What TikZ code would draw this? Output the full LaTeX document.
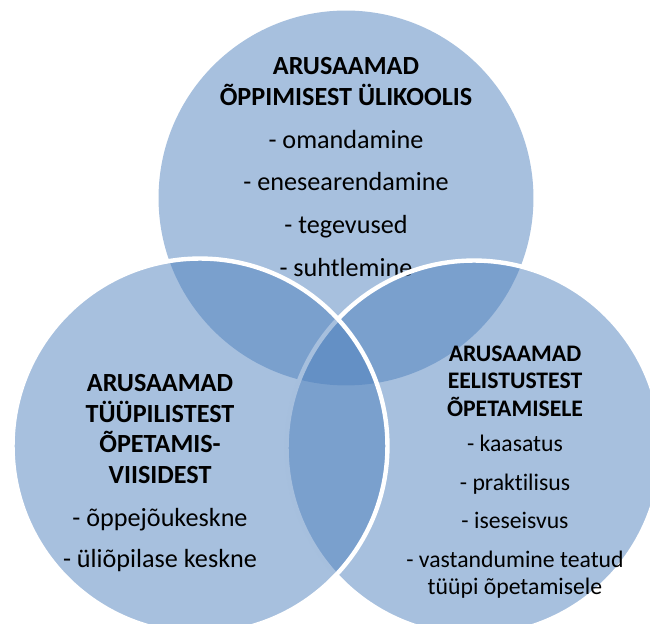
\documentclass[tikz,border=0pt]{standalone}
\usepackage{fontspec}
\setmainfont{Carlito}[Ligatures=CommonOff]
\usetikzlibrary{positioning}
\definecolor{venn}{RGB}{79,129,189}

\begin{document}
\begin{tikzpicture}[x=0.02cm,y=-0.02cm,
  circ/.style={circle,minimum size=7.5cm,inner sep=0pt,fill=venn,fill opacity=0.5},
  rim/.style={circ,draw=white,draw opacity=1,line width=2.5pt},
  txt/.style={align=center,inner sep=0pt,font=\fontsize{14.9}{17.6}\selectfont},
  txts/.style={align=center,inner sep=0pt,font=\fontsize{13.5}{15.6}\selectfont}
]
\useasboundingbox (0,0) rectangle (650,624);
\clip (0,0) rectangle (650,624);

% top: learning at university
\node[circ] (oppimine) at (346,198) {};
\node[txt] (oppimineT) at (346,167) {\textbf{ARUSAAMAD}\\
  \textbf{ÕPPIMISEST ÜLIKOOLIS}\\[6.8pt]
  - omandamine\\[6.8pt]
  - enesearendamine\\[6.8pt]
  - tegevused\\[6.8pt]
  - suhtlemine};

% right: preferences
\node[rim] (eelistus) at (474,448) {};
\node[txts] (eelistusT) at (515,472) {\textbf{ARUSAAMAD}\\
  \textbf{EELISTUSTEST}\\
  \textbf{ÕPETAMISELE}\\[4.7pt]
  - kaasatus\\[6.3pt]
  - praktilisus\\[6.3pt]
  - iseseisvus\\[6.3pt]
  - vastandumine teatud\\
  tüüpi õpetamisele};

% left: typical teaching
\node[rim] (viisid) at (200,446) {};
\node[txt] (viisidT) at (160,473) {\textbf{ARUSAAMAD}\\
  \textbf{TÜÜPILISTEST}\\
  \textbf{ÕPETAMIS-}\\
  \textbf{VIISIDEST}\\[6.4pt]
  - õppejõukeskne\\[6.2pt]
  - üliõpilase keskne};
\end{tikzpicture}
\end{document}
